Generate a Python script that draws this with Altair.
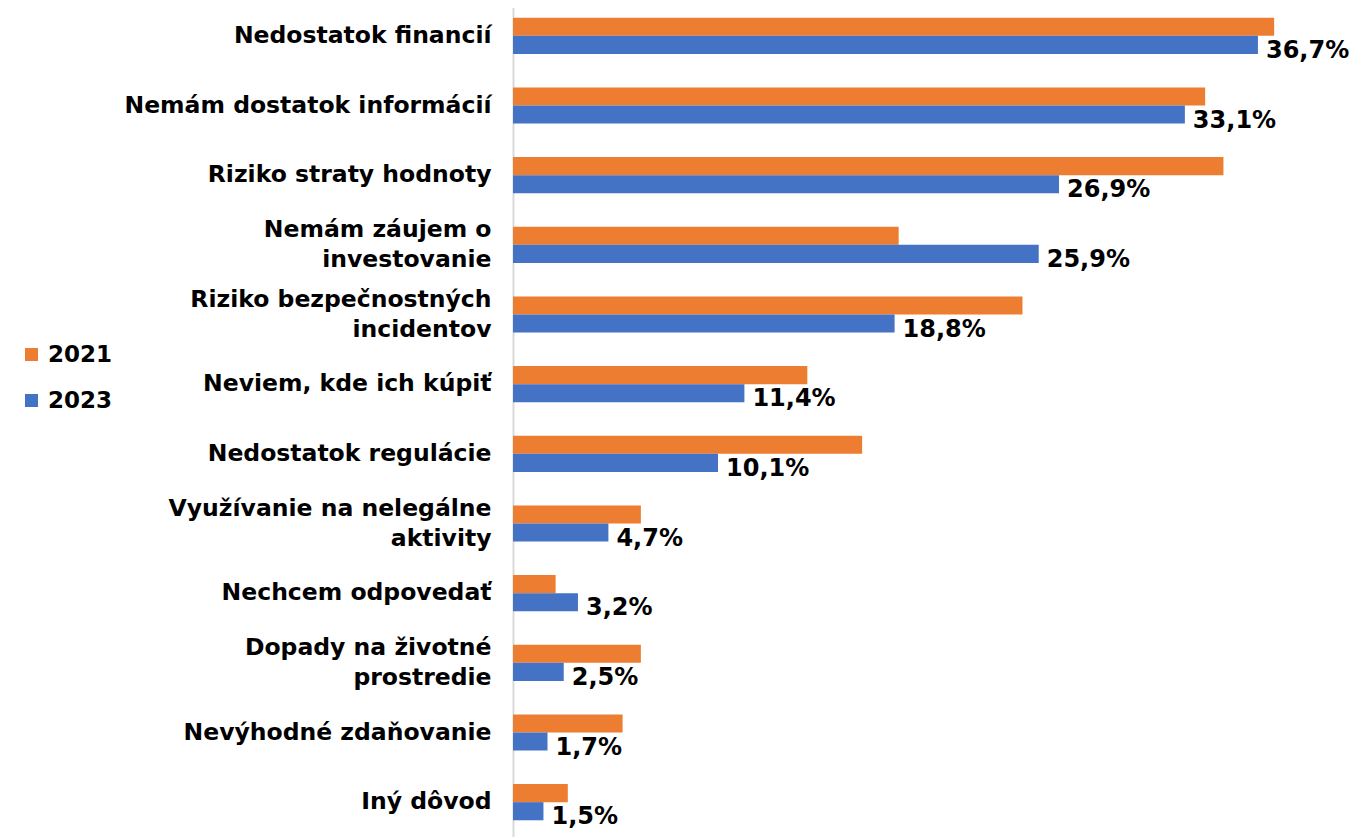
import altair as alt
import pandas as pd

categories = [
    "Nedostatok financií",
    "Nemám dostatok informácií",
    "Riziko straty hodnoty",
    "Nemám záujem o|investovanie",
    "Riziko bezpečnostných|incidentov",
    "Neviem, kde ich kúpiť",
    "Nedostatok regulácie",
    "Využívanie na nelegálne|aktivity",
    "Nechcem odpovedať",
    "Dopady na životné|prostredie",
    "Nevýhodné zdaňovanie",
    "Iný dôvod",
]
values_2021 = [37.5, 34.1, 35.0, 19.0, 25.1, 14.5, 17.2, 6.3, 2.1, 6.3, 5.4, 2.7]
values_2023 = [36.7, 33.1, 26.9, 25.9, 18.8, 11.4, 10.1, 4.7, 3.2, 2.5, 1.7, 1.5]
years = ["2021", "2023"]
colors = ["#ED7D31", "#4472C4"]

rows = []
for c, v1, v2 in zip(categories, values_2021, values_2023):
    rows.append({"cat": c, "year": "2021", "value": v1})
    rows.append({"cat": c, "year": "2023", "value": v2})
df = pd.DataFrame(rows)
df["label"] = df["value"].map(lambda v: f"{v:.1f}".replace(".", ",") + "%")

FONT = "DejaVu Sans"

y_enc = alt.Y(
    "cat:N",
    sort=categories,
    scale=alt.Scale(paddingInner=0.48, paddingOuter=0.24),
    axis=alt.Axis(
        title=None,
        ticks=False,
        domainColor="#d9d9d9",
        domainWidth=2,
        labelExpr="split(datum.value, '|')",
        labelOffset=alt.ExprRef("indexof(datum.value, '|') >= 0 ? -15 : 0"),
        labelFont=FONT,
        labelFontSize=23.5,
        labelFontWeight="bold",
        labelColor="#000000",
        labelPadding=22,
        labelLineHeight=30,
        labelLimit=500,
    ),
)
x_enc = alt.X("value:Q", scale=alt.Scale(domain=[0, 41.58], nice=False), axis=None)
yoff = alt.YOffset("year:N", sort=years)

bars = alt.Chart(df).mark_bar().encode(
    y=y_enc,
    x=x_enc,
    yOffset=yoff,
    color=alt.Color(
        "year:N",
        sort=years,
        scale=alt.Scale(domain=years, range=colors),
        legend=alt.Legend(
            title=None,
            orient="none",
            legendX=-493,
            legendY=342,
            symbolType="square",
            symbolSize=169,
            symbolStrokeWidth=0,
            labelFont=FONT,
            labelFontSize=23,
            labelFontWeight="bold",
            labelColor="#000000",
            rowPadding=22,
            labelOffset=5,
        ),
    ),
)

texts = alt.Chart(df).transform_filter(alt.datum.year == "2023").mark_text(
    align="left", baseline="middle", dx=8, dy=6,
    font=FONT, fontSize=24, fontWeight="bold", color="#000000",
).encode(
    y=alt.Y("cat:N", sort=categories),
    x=alt.X("value:Q"),
    yOffset=yoff,
    text="label:N",
)

chart = alt.layer(bars, texts).properties(
    width=844,
    height=836,
    autosize=alt.AutoSizeParams(type="none"),
    padding={"left": 505, "top": -7, "right": 0, "bottom": 0},
).configure_view(stroke=None)

chart.save("out.html", embed_options={"renderer": "svg", "actions": False})
